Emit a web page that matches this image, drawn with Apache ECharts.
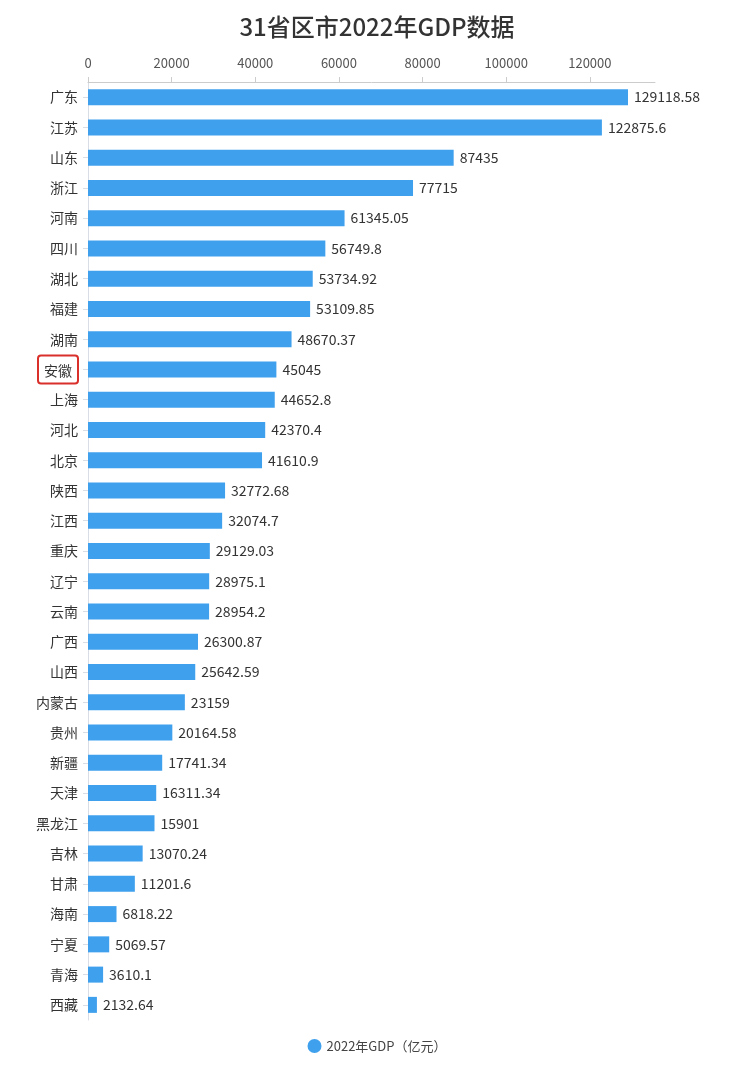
<!DOCTYPE html>
<html>
<head>
<meta charset="utf-8">
<script src="https://cdn.jsdelivr.net/npm/echarts@6/dist/echarts.min.js"></script>
<style>
  html, body { margin: 0; padding: 0; background: #fff; }
  #main { width: 754px; height: 1070px; }
</style>
</head>
<body>
<div id="main"></div>
<script>
var provinces = ['广东', '江苏', '山东', '浙江', '河南', '四川', '湖北', '福建', '湖南', '安徽',
  '上海', '河北', '北京', '陕西', '江西', '重庆', '辽宁', '云南', '广西', '山西',
  '内蒙古', '贵州', '新疆', '天津', '黑龙江', '吉林', '甘肃', '海南', '宁夏', '青海', '西藏'];
var gdp2022 = [129118.58, 122875.6, 87435, 77715, 61345.05, 56749.8, 53734.92, 53109.85, 48670.37, 45045,
  44652.8, 42370.4, 41610.9, 32772.68, 32074.7, 29129.03, 28975.1, 28954.2, 26300.87, 25642.59,
  23159, 20164.58, 17741.34, 16311.34, 15901, 13070.24, 11201.6, 6818.22, 5069.57, 3610.1, 2132.64];
var highlighted = '安徽';

var chartDom = document.getElementById('main');
var myChart = echarts.init(chartDom);
var font = '"Noto Sans CJK SC", "Noto Sans", sans-serif';

myChart.setOption({
  textStyle: { fontFamily: font },
  title: {
    text: '31省区市2022年GDP数据',
    left: 'center',
    top: 10,
    textStyle: { fontSize: 24, fontWeight: 500, color: '#333', fontFamily: font }
  },
  legend: {
    bottom: 12,
    left: 'center',
    icon: 'circle',
    itemWidth: 14,
    itemHeight: 14,
    textStyle: { fontSize: 13, color: '#444' },
    data: ['2022年GDP（亿元）']
  },
  grid: { left: 88, right: 99, top: 82, bottom: 50, containLabel: false },
  xAxis: {
    type: 'value',
    position: 'top',
    max: function (v) { return v.max * 1.05; },
    interval: 20000,
    splitLine: { show: false },
    axisLine: { show: true, lineStyle: { color: '#ccc' } },
    axisTick: { show: true, lineStyle: { color: '#ccc' } },
    axisLabel: {
      color: '#555',
      fontSize: 13,
      margin: 12,
      showMaxLabel: false,
      formatter: function (v) { return String(v); }
    }
  },
  yAxis: {
    type: 'category',
    inverse: true,
    data: provinces,
    axisLine: { show: true, lineStyle: { color: '#d8dde6' } },
    axisTick: { show: true, alignWithLabel: true, lineStyle: { color: '#d8dde6' } },
    axisLabel: {
      color: '#333',
      fontSize: 14,
      margin: 10,
      formatter: function (name) {
        return name === highlighted ? '{hl|' + name + '}' : name;
      },
      rich: {
        hl: {
          fontSize: 14,
          color: '#333',
          borderColor: '#d9302c',
          borderWidth: 2,
          borderRadius: 3,
          padding: [8, 6, 6, 6]
        }
      }
    }
  },
  series: [
    {
      name: '2022年GDP（亿元）',
      type: 'bar',
      data: gdp2022,
      barWidth: 16,
      itemStyle: { color: '#3fa0ee' },
      label: {
        show: true,
        position: 'right',
        distance: 6,
        color: '#333',
        fontSize: 14
      }
    }
  ]
});

window.addEventListener('resize', myChart.resize);
</script>
</body>
</html>
